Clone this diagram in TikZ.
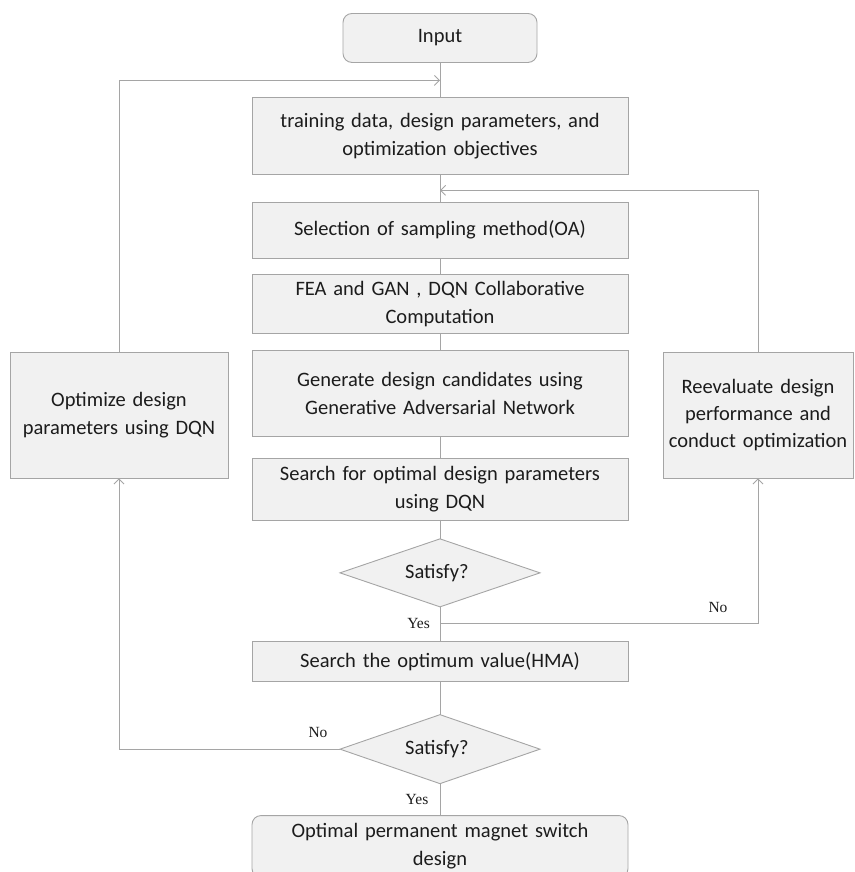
\documentclass[tikz,border=0pt]{standalone}
\usepackage{fontspec}
\setmainfont{Carlito}
\newfontfamily\tagfont{Liberation Serif}
\usetikzlibrary{matrix,arrows.meta,shapes.geometric}
\definecolor{boxgray}{HTML}{F1F1F1}
\definecolor{edgegray}{HTML}{A5A5A5}
\definecolor{inkgray}{HTML}{1C1C1C}
\tikzset{
  centered/.style = { align=center, anchor=center },
     stage/.style = { draw=edgegray, fill=boxgray, text=inkgray, line width=0.9pt,
                      font=\fontsize{20.5}{28}\selectfont, centered,
                      text width=350pt, inner xsep=13pt, inner ysep=0pt },
  terminal/.style = { stage, rounded corners=9pt },
  decision/.style = { diamond, draw=edgegray, fill=boxgray, text=inkgray, line width=0.9pt,
                      font=\fontsize{20.5}{28}\selectfont, centered, aspect=2.9,
                      minimum width=200pt, minimum height=68pt, inner sep=0pt },
       tag/.style = { font=\tagfont\fontsize{15.5}{18}\selectfont, text=inkgray, inner sep=0pt },
      link/.style = { draw=edgegray, line width=0.9pt },
     arrow/.style = { link, -{Straight Barb[length=5pt,width=10pt]} },
}
\begin{document}
\begin{tikzpicture}[x=1pt,y=1pt]
  \useasboundingbox (0,0) rectangle (854,-872);
  \matrix (m)
    [
      matrix of nodes,
      anchor=north, inner sep=0pt, outer sep=0pt,
      row sep      = 15pt,
      row 1/.style  = { nodes = { terminal, text width=168pt, minimum height=49pt } },
      row 2/.style  = { nodes = { stage, minimum height=77pt } },
      row 3/.style  = { nodes = { stage, minimum height=56pt } },
      row 4/.style  = { nodes = { stage, minimum height=59pt } },
      row 5/.style  = { nodes = { stage, minimum height=86pt } },
      row 6/.style  = { nodes = { stage, minimum height=62pt } },
      row 7/.style  = { nodes = { decision } },
      row 8/.style  = { nodes = { stage, minimum height=40pt } },
      row 9/.style  = { nodes = { decision, minimum height=69pt } },
      row 10/.style = { nodes = { terminal, minimum height=62pt } },
    ] at (440,-13)
    {
      Input \\[19pt]
      {training data, design parameters, and\\optimization objectives} \\[12pt]
      Selection of sampling method(OA) \\
      {FEA and GAN , DQN Collaborative\\Computation} \\[1pt]
      {Generate design candidates using\\Generative Adversarial Network} \\[6pt]
      {Search for optimal design parameters\\using DQN} \\[3pt]
      Satisfy? \\[19pt]
      Search the optimum value(HMA) \\[17pt]
      Satisfy? \\[16pt]
      {Optimal permanent magnet switch\\design} \\
    };
  \node (optim) [stage, text width=200pt, inner xsep=9pt, minimum height=126pt]
    at (119,-415) {Optimize design\\parameters using DQN};
  \node (reeval) [stage, text width=180pt, inner xsep=5pt, minimum height=126pt,
                  font=\fontsize{20.5}{26.7}\selectfont]
    at (758,-415) {Reevaluate design\\performance and\\conduct optimization};

  \foreach \i/\j in {1/2,2/3,3/4,4/5,5/6,6/7,7/8,8/9,9/10} {
    \draw [link] (m-\i-1) -- (m-\j-1);
  }
  \coordinate (back1) at ([yshift=-18pt]m-1-1.south);
  \coordinate (back2) at ([yshift=-16pt]m-2-1.south);
  \coordinate (fork) at ([yshift=-17pt]m-7-1.south);
  \coordinate (corner) at (fork -| reeval.south);

  \draw [arrow] (fork) -- (corner) -- (reeval.south);
  \draw [arrow] (reeval.north) |- (back2);
  \draw [arrow] (m-9-1.west) -| (optim.south);
  \draw [arrow] (optim.north) |- (back1);

  \node (yes1) [tag, anchor=east] at ([xshift=-10pt]fork) {Yes};
  \node (no1) [tag] at ([xshift=-40pt,yshift=16pt]corner) {No};
  \node (no2) [tag] at ([xshift=-22pt,yshift=17pt]m-9-1.west) {No};
  \node (yes2) [tag] at ([xshift=-23pt,yshift=-16pt]m-9-1.south) {Yes};
\end{tikzpicture}
\end{document}
